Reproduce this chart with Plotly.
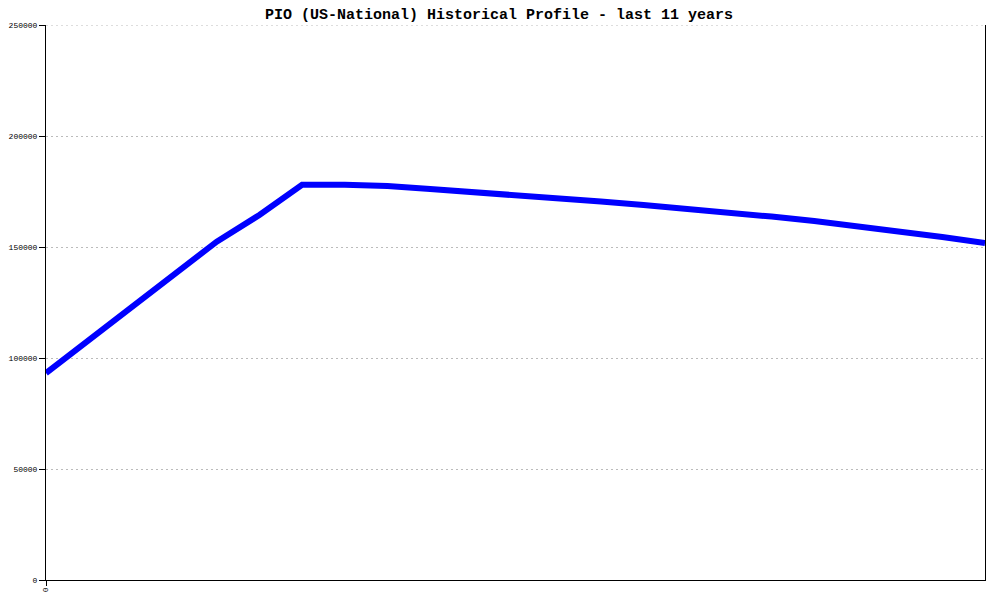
import plotly.graph_objects as go

# Semiannual points over the last 11 years (index 0..22)
periodo = list(range(23))
populacao = [
    93200, 108000, 122800, 137600, 152400, 164400, 178000, 178000, 177500,
    176100, 174800, 173400, 172100, 170500, 168900, 167300, 165500, 163700,
    161700, 159500, 157000, 154500, 151800,
]
y_ticks = [0, 50000, 100000, 150000, 200000, 250000]
x_ticks = [0]
x_labels = ["0"]

FONT = "Liberation Mono, DejaVu Sans Mono, monospace"
GRID = dict(color="#bbbbbb", width=1, dash="2px,3px")

# the page puts the figure 8px in from the top-left corner,
# so the figure is 992x592 and the margins are shifted to match
W, H = 992, 592

fig = go.Figure()
fig.add_trace(go.Scatter(
    x=periodo,
    y=populacao,
    mode="lines",
    line=dict(color="#0000FF", width=6),
    hoverinfo="x+y",
))

# top gridline (plotly skips the one on the range edge)
fig.add_shape(
    type="line", xref="paper", yref="y", x0=0, x1=1, y0=250000, y1=250000,
    line=GRID, layer="below",
)

fig.update_layout(
    width=W,
    height=H,
    paper_bgcolor="white",
    plot_bgcolor="white",
    showlegend=False,
    margin=dict(l=38, r=15, t=17, b=20, autoexpand=False),
    title=dict(
        text="<b>PIO (US-National) Historical Profile - last 11 years</b>",
        x=491 / W, xanchor="center", xref="container",
        y=1, yanchor="top", yref="container",
        pad=dict(t=0),
        automargin=False,
        font=dict(family=FONT, size=15, color="black"),
    ),
    xaxis=dict(
        range=[0, 22],
        tickvals=x_ticks,
        ticktext=x_labels,
        tickangle=90,
        ticks="outside",
        ticklen=5,
        tickcolor="black",
        showline=True,
        linecolor="black",
        linewidth=1,
        showgrid=False,
        zeroline=False,
        automargin=False,
        tickfont=dict(family=FONT, size=8, color="black"),
    ),
    yaxis=dict(
        range=[0, 250000],
        tickvals=y_ticks,
        ticktext=[str(v) for v in y_ticks],
        ticks="outside",
        ticklen=6,
        tickcolor="black",
        showline=True,
        mirror=True,
        linecolor="black",
        linewidth=1,
        showgrid=True,
        gridcolor=GRID["color"],
        griddash=GRID["dash"],
        gridwidth=1,
        zeroline=False,
        automargin=False,
        tickfont=dict(family=FONT, size=8, color="black"),
    ),
)

fig.write_html("out.html")
